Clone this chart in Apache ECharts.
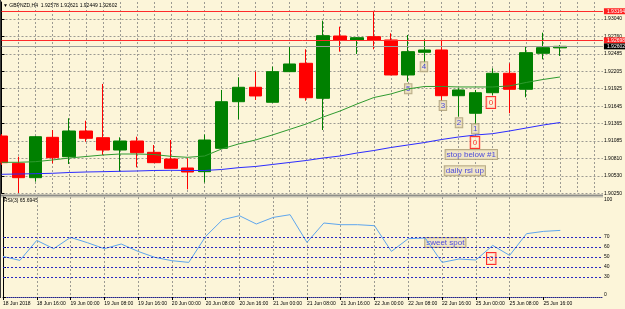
<!DOCTYPE html>
<html>
<head>
<meta charset="utf-8">
<script src="https://cdn.jsdelivr.net/npm/echarts@6/dist/echarts.min.js"></script>
<style>
html, body { margin: 0; padding: 0; background: #fcf5d9; }
#chart { width: 625px; height: 309px; }
</style>
</head>
<body>
<div id="chart"></div>
<script>
// GBPNZD H4, one entry per bar from 18 Jun 08:00 to 25 Jun 20:00 (x = bar index)
const xTickLabels = ['18 Jun 2018', '18 Jun 16:00', '19 Jun 00:00', '19 Jun 08:00', '19 Jun 16:00',
  '20 Jun 00:00', '20 Jun 08:00', '20 Jun 16:00', '21 Jun 00:00', '21 Jun 08:00', '21 Jun 16:00',
  '22 Jun 00:00', '22 Jun 08:00', '22 Jun 16:00', '25 Jun 00:00', '25 Jun 08:00', '25 Jun 16:00'];
const xTickBars = [0, 2, 4, 6, 8, 10, 12, 14, 16, 18, 20, 22, 24, 26, 28, 30, 32];

const opens = [1.91167, 1.90730, 1.90500, 1.91146, 1.90836, 1.91247, 1.91140, 1.90943, 1.91087, 1.90906,
  1.90799, 1.90655, 1.90596, 1.90970, 1.91716, 1.91947, 1.91707, 1.92197, 1.92331, 1.91771,
  1.92768, 1.92704, 1.92757, 1.92704, 1.92144, 1.92507, 1.92544, 1.91812, 1.91531, 1.91860,
  1.92171, 1.91915, 1.92491, 1.92578];
const closes = [1.90740, 1.90500, 1.91156, 1.90820, 1.91247, 1.91130, 1.90943, 1.91087, 1.90900, 1.90740,
  1.90650, 1.90591, 1.91103, 1.91716, 1.91947, 1.91808, 1.92197, 1.92320, 1.91780, 1.92773,
  1.92704, 1.92741, 1.92704, 1.92144, 1.92517, 1.92544, 1.91812, 1.91904, 1.91860, 1.92171,
  1.91915, 1.92501, 1.92581, 1.92602];
const lows = [1.90703, 1.90255, 1.90436, 1.90730, 1.90719, 1.91076, 1.90863, 1.90596, 1.90666, 1.90735,
  1.90647, 1.90314, 1.90423, 1.90960, 1.91435, 1.91744, 1.91700, 1.92190, 1.91732, 1.91263,
  1.92517, 1.92480, 1.92555, 1.92140, 1.92036, 1.92277, 1.91716, 1.91476, 1.91343, 1.91824,
  1.91531, 1.91787, 1.92395, 1.92449];
const highs = [1.91199, 1.90836, 1.91167, 1.91263, 1.91451, 1.91412, 1.92000, 1.91146, 1.91156, 1.91023,
  1.91103, 1.90810, 1.91191, 1.91904, 1.92107, 1.92197, 1.92277, 1.92608, 1.92555, 1.93013,
  1.92917, 1.92752, 1.93170, 1.92811, 1.92784, 1.92715, 1.92704, 1.91931, 1.91904, 1.92251,
  1.92331, 1.92597, 1.92821, 1.92621];

const maGreen = [1.90746, 1.90746, 1.90756, 1.90783, 1.90815, 1.90839, 1.90863, 1.90879, 1.90879, 1.90871,
  1.90842, 1.90826, 1.90847, 1.90959, 1.91039, 1.91103, 1.91183, 1.91271, 1.91359, 1.91471,
  1.91567, 1.91679, 1.91783, 1.91840, 1.91920, 1.91960, 1.91960, 1.91952, 1.91952, 1.91952,
  1.91968, 1.92024, 1.92072, 1.92112];
const maBlue = [1.90554, 1.90559, 1.90564, 1.90570, 1.90583, 1.90591, 1.90596, 1.90602, 1.90607, 1.90615,
  1.90618, 1.90615, 1.90615, 1.90631, 1.90660, 1.90679, 1.90711, 1.90743, 1.90775, 1.90815,
  1.90847, 1.90895, 1.90935, 1.90983, 1.91023, 1.91063, 1.91111, 1.91151, 1.91183, 1.91204,
  1.91247, 1.91295, 1.91343, 1.91383];

const rsi = [50.6, 46.6, 66.6, 58.3, 69.6, 64.3, 58.3, 63.0, 55.6, 49.6,
  46.3, 44.6, 70.6, 87.3, 91.3, 83.0, 89.6, 92.3, 64.6, 84.0,
  82.3, 82.3, 81.3, 55.6, 68.3, 69.0, 44.6, 48.0, 47.0, 61.6,
  51.6, 73.3, 75.6, 76.6];

const priceMin = 1.90250;
const priceStep = 0.00279;
const priceTickLabels = ['1.90250', '1.90530', '1.90810', '1.91085', '1.91365', '1.91645',
  '1.91925', '1.92205', '1.92485', '1.92760', '1.93040'];
const redLines = [1.93164, 1.92698];
const bidPrice = 1.92602;

const rsiLevels = [70, 60, 50, 40, 30];
const rsiTickValues = [10, 30, 40, 50, 60, 70, 110];
const rsiTickLabels = ['0', '30', '40', '50', '60', '70', '100'];

// text objects placed on the chart (bar index, price)
const waveNotes = [['5', 23.88, 1.91984], ['4', 24.81, 1.92336], ['3', 25.93, 1.91716],
  ['2', 26.88, 1.91439], ['1', 27.84, 1.91343],
  ['stop below #1', 26.28, 1.90932], ['daily rsi up', 26.23, 1.90671]];
const zeroMarks = [[28.72, 1.91792], [27.78, 1.91151]];
const rsiNotes = [['sweet spot', 25.0, 69]];
const rsiZeroMarks = [[28.72, 54]];

const FONT = 'Liberation Sans';
const gridColor = '#9c9a92';
const chart = echarts.init(document.getElementById('chart'));

const candleData = opens.map((o, i) => [i, o, closes[i], lows[i], highs[i]]);
const toXY = arr => arr.map((v, i) => [i, v]);

const noteLabel = {
  show: true, position: [0, 0], formatter: '{b}', fontFamily: FONT, fontSize: 8,
  color: '#1c1ce0', backgroundColor: '#efe4c0', borderColor: '#a89a72', borderWidth: 1,
  padding: [1, 1, 0, 1]
};
const zeroLabel = {
  show: true, position: [-1, 0], formatter: '0', fontFamily: FONT, fontSize: 8,
  color: '#ff0000', backgroundColor: '#fcf5d9', borderColor: '#ff0000', borderWidth: 1,
  padding: [2, 2, 1, 2]
};
const splitDash = { show: true, showMaxLine: false, lineStyle: { color: gridColor, type: [2, 2], width: 1 } };
const priceTag = (v, bg, line) => ({
  yAxis: v, lineStyle: { color: line, type: 'solid', width: 1 },
  label: { show: true, position: 'end', distance: 1, formatter: v.toFixed(5), fontSize: 5, fontFamily: FONT,
    color: '#fff', backgroundColor: bg, padding: [1, 3, 0, 3] }
});

chart.setOption({
  backgroundColor: '#fcf5d9',
  animation: false,
  textStyle: { fontFamily: FONT },
  grid: [
    { left: 1.5, top: 2, width: 601.5, height: 191.3 },
    { left: 1.5, top: 197, width: 601.5, height: 100 }
  ],
  xAxis: [
    {
      type: 'value', gridIndex: 0, min: 0, max: 35.53, interval: 1,
      axisLine: { show: false }, axisTick: { show: false }, axisLabel: { show: false },
      splitLine: splitDash
    },
    {
      type: 'value', gridIndex: 1, min: 0, max: 35.53, interval: 1,
      axisLine: { show: true, lineStyle: { color: '#22228a', type: [1, 1] } },
      axisTick: { show: true, customValues: xTickBars, length: 3, lineStyle: { color: '#000' } },
      axisLabel: {
        customValues: xTickBars, fontSize: 5, color: '#000', align: 'left', margin: 4,
        formatter: v => xTickLabels[xTickBars.indexOf(v)] || ''
      },
      splitLine: splitDash
    }
  ],
  yAxis: [
    {
      type: 'value', gridIndex: 0, position: 'right', min: priceMin, max: 1.93312, interval: priceStep,
      axisLine: { show: true, lineStyle: { color: '#000' } },
      axisTick: { show: true, length: 3, lineStyle: { color: '#000' } },
      axisLabel: {
        fontSize: 5, color: '#000', margin: 1, showMaxLabel: false,
        formatter: v => {
          const i = Math.round((v - priceMin) / priceStep);
          return Math.abs(v - priceMin - i * priceStep) < 1e-6 ? (priceTickLabels[i] || '') : '';
        }
      },
      splitLine: splitDash
    },
    {
      type: 'value', gridIndex: 1, position: 'right', min: 10, max: 110,
      axisLine: { show: true, lineStyle: { color: '#000' } },
      axisTick: { show: true, length: 3, customValues: rsiTickValues, lineStyle: { color: '#000' } },
      axisLabel: {
        customValues: rsiTickValues, fontSize: 5, color: '#000', margin: 1,
        verticalAlignMinLabel: 'bottom', verticalAlignMaxLabel: 'top',
        formatter: v => rsiTickLabels[rsiTickValues.indexOf(v)] || ''
      },
      splitLine: { show: false }
    }
  ],
  graphic: [
    { type: 'text', left: 3, top: 3, style: { text: '▼ GBPNZD,H4  1.92578 1.92621 1.92449 1.92602', font: '5px ' + FONT, fill: '#000' } },
    { type: 'text', left: 4, top: 198, style: { text: 'RSI(3) 65.6945', font: '5px ' + FONT, fill: '#000' } },
    { type: 'rect', shape: { x: 0, y: 194.5, width: 603, height: 2 }, style: { fill: '#8e8e8a' } },
    { type: 'rect', shape: { x: 0, y: 196.5, width: 603, height: 1 }, style: { fill: '#c0bdb0' } },
    { type: 'rect', shape: { x: 0, y: 0, width: 1, height: 298 }, style: { fill: '#3a3a3a' } }
  ],
  series: [
    {
      type: 'candlestick', xAxisIndex: 0, yAxisIndex: 0, data: candleData,
      encode: { x: 0, y: [1, 2, 3, 4] }, barWidth: 13, clip: true,
      itemStyle: { color: '#008000', color0: '#ff0000', borderColor: '#008000', borderColor0: '#ff0000', borderWidth: 1 }
    },
    {
      type: 'line', xAxisIndex: 0, yAxisIndex: 0, data: toXY(maGreen), symbol: 'none',
      lineStyle: { color: '#2f9a2f', width: 1 }
    },
    {
      type: 'line', xAxisIndex: 0, yAxisIndex: 0, data: toXY(maBlue), symbol: 'none',
      lineStyle: { color: '#2b2bff', width: 1 },
      markLine: {
        silent: true, symbol: 'none', animation: false, precision: 5,
        data: redLines.map(v => priceTag(v, '#ff2020', '#ff2a2a')).concat([priceTag(bidPrice, '#000', '#9c9c9c')])
      }
    },
    {
      type: 'scatter', xAxisIndex: 0, yAxisIndex: 0, symbol: 'rect', symbolSize: 1.5,
      itemStyle: { color: '#2020d0' },
      data: waveNotes.map(n => ({ name: n[0], value: [n[1], n[2]] })),
      label: noteLabel
    },
    {
      type: 'scatter', xAxisIndex: 0, yAxisIndex: 0, symbolSize: 0,
      data: zeroMarks.map(m => ({ value: m })),
      label: zeroLabel
    },
    {
      type: 'line', xAxisIndex: 1, yAxisIndex: 1, data: toXY(rsi), symbol: 'none',
      lineStyle: { color: '#5ea6ee', width: 1 },
      markLine: {
        silent: true, symbol: 'none', animation: false,
        label: { show: false },
        lineStyle: { color: '#2626c4', type: [2, 2], width: 1 },
        data: rsiLevels.map(v => ({ yAxis: v }))
      }
    },
    {
      type: 'scatter', xAxisIndex: 1, yAxisIndex: 1, symbolSize: 0,
      data: rsiNotes.map(n => ({ name: n[0], value: [n[1], n[2]] })),
      label: noteLabel
    },
    {
      type: 'scatter', xAxisIndex: 1, yAxisIndex: 1, symbolSize: 0,
      data: rsiZeroMarks.map(m => ({ value: m })),
      label: zeroLabel
    }
  ]
});
</script>
</body>
</html>
